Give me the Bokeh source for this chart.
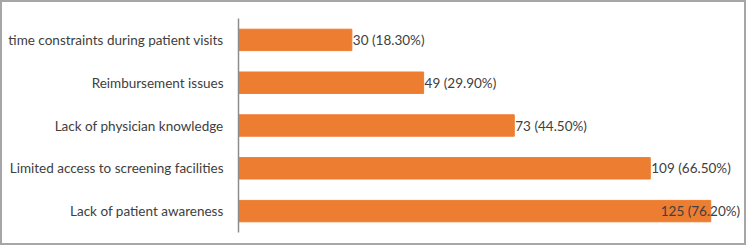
from bokeh.plotting import figure
from bokeh.models import ColumnDataSource, FactorRange, Range1d
from bokeh.embed import file_html
from bokeh.resources import INLINE
from bokeh.core.properties import value

categories = [
    "time constraints during patient visits",
    "Reimbursement issues",
    "Lack of physician knowledge",
    "Limited access to screening facilities",
    "Lack of patient awareness",
]
counts = [30, 49, 73, 109, 125]
percents = [18.30, 29.90, 44.50, 66.50, 76.20]

X_END = 135
labels = [f"{c} ({p:.2f}%)" for c, p in zip(counts, percents)]
label_x = [min(c, X_END - 23.5) for c in counts]

src = ColumnDataSource(dict(cat=categories, cnt=counts, lab=labels, lx=label_x))

FONT = "Lato"
FS = "13.5px"

p = figure(
    width=746, height=245,
    y_range=FactorRange(*reversed(categories), range_padding=0),
    x_range=Range1d(0, X_END),
    output_backend="svg", toolbar_location=None,
    min_border_left=236, min_border_right=0, min_border_top=16, min_border_bottom=15,
    styles={"border": "2px solid #a6a6a6"},
)
p.hbar(y="cat", right="cnt", left=0, height=0.5, source=src,
       fill_color="#ED7D31", line_color="#ED7D31")
p.text(x="lx", y="cat", text="lab", source=src, x_offset=1,
       text_font=value(FONT), text_font_size=FS, text_color="#404040",
       text_baseline="middle", text_align="left")

p.xaxis.visible = False
p.xgrid.visible = False
p.ygrid.visible = False
p.outline_line_color = None
p.yaxis.axis_line_color = "#8c8c8c"
p.yaxis.axis_line_width = 1.5
p.yaxis.major_tick_line_color = None
p.yaxis.minor_tick_line_color = None
p.yaxis.major_label_text_font = FONT
p.yaxis.major_label_text_font_size = FS
p.yaxis.major_label_text_color = "#404040"
p.yaxis.major_label_standoff = 9

open("out.html", "w").write(file_html(p, INLINE))
